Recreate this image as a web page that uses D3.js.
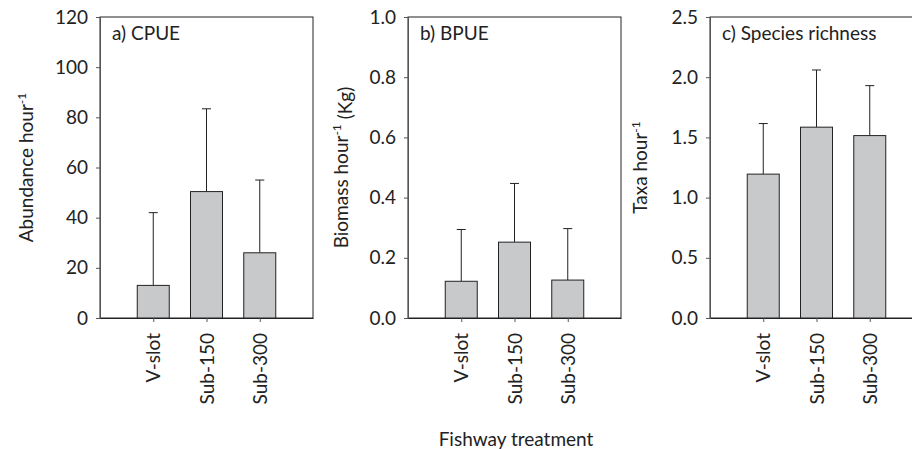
<!DOCTYPE html>
<html>
<head>
<meta charset="utf-8">
<script src="https://cdn.jsdelivr.net/npm/d3@7"></script>
<style>
  body { margin: 0; background: #fff; }
  svg text { font-family: Lato, "Open Sans", sans-serif; fill: #222; }
</style>
</head>
<body>
<svg id="chart" width="912" height="449"></svg>
<script>
// categories on x
const categories = ['V-slot', 'Sub-150', 'Sub-300'];

// a) CPUE
const cpueMean = [13, 50.4, 26];
const cpueErr = [29, 33, 29];
const cpueTicks = [0, 20, 40, 60, 80, 100, 120];

// b) BPUE
const bpueMean = [0.122, 0.252, 0.126];
const bpueErr = [0.172, 0.195, 0.171];
const bpueTicks = [0, 0.2, 0.4, 0.6, 0.8, 1.0];

// c) species richness
const richMean = [1.195, 1.585, 1.515];
const richErr = [0.42, 0.475, 0.415];
const richTicks = [0, 0.5, 1.0, 1.5, 2.0, 2.5];

const panels = [
  { left: 100, label: 'a) CPUE', title: 'Abundance hour', unit: '', mean: cpueMean, err: cpueErr,
    ticks: cpueTicks, fmt: d3.format('d'), titleX: 33 },
  { left: 408, label: 'b) BPUE', title: 'Biomass hour', unit: ' (Kg)', mean: bpueMean, err: bpueErr,
    ticks: bpueTicks, fmt: d3.format('.1f'), titleX: 348 },
  { left: 710, label: 'c) Species richness', title: 'Taxa hour', unit: '', mean: richMean, err: richErr,
    ticks: richTicks, fmt: d3.format('.1f'), titleX: 647 }
];

const plotTop = 17, plotBottom = 318, plotW = 213;
const plotH = plotBottom - plotTop;
const fs = '19px';
const svg = d3.select('#chart');

panels.forEach(p => {
  const g = svg.append('g').attr('transform', `translate(${p.left},${plotTop})`);
  const x = d3.scalePoint().domain(categories).range([0, plotW]).padding(1);
  const y = d3.scaleLinear().domain([0, p.ticks[p.ticks.length - 1]]).range([plotH, 0]);
  const bw = 32;

  // frame
  g.append('rect')
    .attr('x', 0).attr('y', 0).attr('width', plotW).attr('height', plotH)
    .attr('fill', 'none').attr('stroke', '#222').attr('stroke-width', 1);

  const rows = categories.map((c, i) => ({ c, m: p.mean[i], e: p.err[i] }));

  // error bars (upper only)
  g.selectAll('.err').data(rows).enter().append('path')
    .attr('d', d => {
      const cx = x(d.c);
      return `M${cx},${y(d.m)}V${y(d.m + d.e)}M${cx - 4.5},${y(d.m + d.e)}H${cx + 4.5}`;
    })
    .attr('stroke', '#222').attr('stroke-width', 1).attr('fill', 'none');

  g.selectAll('.bar').data(rows).enter().append('rect')
    .attr('x', d => x(d.c) - bw / 2)
    .attr('y', d => y(d.m))
    .attr('width', bw)
    .attr('height', d => plotH - y(d.m))
    .attr('fill', '#c8c9cb').attr('stroke', '#222').attr('stroke-width', 1);

  // y axis
  const ya = g.append('g').call(d3.axisLeft(y).tickValues(p.ticks).tickFormat(p.fmt).tickSize(4).tickPadding(8));
  ya.select('.domain').attr('stroke', '#555');
  ya.selectAll('line').attr('stroke', '#555');
  ya.selectAll('text').style('font-size', fs).attr('fill', '#222');

  // x axis
  const xa = g.append('g').attr('transform', `translate(0,${plotH})`)
    .call(d3.axisBottom(x).tickSize(4).tickSizeOuter(0));
  xa.select('.domain').attr('stroke', '#222');
  xa.selectAll('line').attr('stroke', '#555');
  xa.selectAll('text')
    .style('font-size', fs)
    .attr('transform', 'rotate(-90)')
    .attr('text-anchor', 'end')
    .attr('x', -15).attr('y', 0).attr('dy', '0.35em');

  // panel label
  g.append('text').attr('x', 12).attr('y', 23).style('font-size', fs).text(p.label);

  // y title
  const t = svg.append('text')
    .attr('transform', `translate(${p.titleX},${plotTop + plotH / 2}) rotate(-90)`)
    .attr('text-anchor', 'middle')
    .style('font-size', fs);
  t.append('tspan').text(p.title);
  t.append('tspan').attr('dy', '-0.55em').style('font-size', '12px').text('-1');
  t.append('tspan').attr('dy', '0.55em').text(p.unit);
});

svg.append('text')
  .attr('x', 516).attr('y', 446)
  .attr('text-anchor', 'middle')
  .style('font-size', fs)
  .text('Fishway treatment');
</script>
</body>
</html>
